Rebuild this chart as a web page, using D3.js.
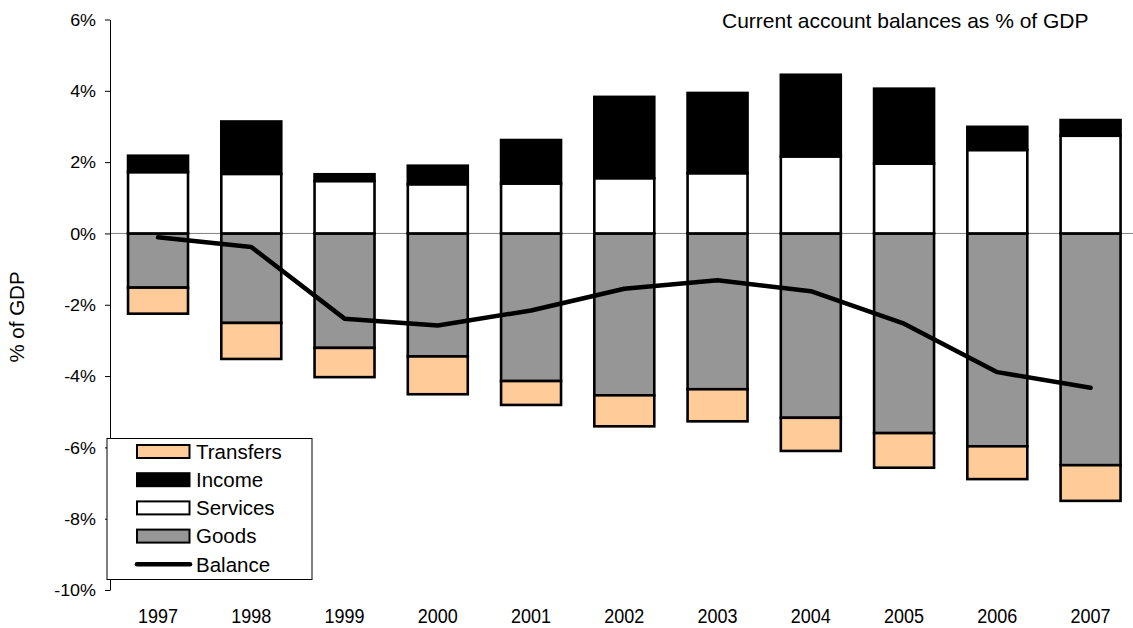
<!DOCTYPE html>
<html>
<head>
<meta charset="utf-8">
<script src="https://cdn.jsdelivr.net/npm/d3@7"></script>
<style>
  html, body { margin: 0; padding: 0; background: #fff; }
  svg { display: block; font-family: Arial, "Liberation Sans", sans-serif; }
</style>
</head>
<body>
<svg id="chart" width="1133" height="628"></svg>
<script>
const years = ["1997","1998","1999","2000","2001","2002","2003","2004","2005","2006","2007"];
const goods     = [-1.52,-2.51,-3.21,-3.45,-4.14,-4.54,-4.37,-5.17,-5.60,-5.97,-6.50];
const services  = [ 1.72, 1.67, 1.47, 1.38, 1.40, 1.55, 1.69, 2.16, 1.96, 2.34, 2.74];
const income    = [ 0.46, 1.47, 0.19, 0.52, 1.22, 2.28, 2.25, 2.29, 2.10, 0.65, 0.44];
const transfers = [-0.73,-1.01,-0.82,-1.06,-0.67,-0.87,-0.90,-0.93,-0.97,-0.92,-1.00];
const balance   = [-0.11,-0.38,-2.39,-2.58,-2.16,-1.55,-1.31,-1.62,-2.53,-3.89,-4.33];
const yTicks = [-10,-8,-6,-4,-2,0,2,4,6];
const seriesKeys = ["Goods","Services","Income","Transfers"];
const legendKeys = ["Transfers","Income","Services","Goods","Balance"];
const colors = {Goods:"#969696", Services:"#ffffff", Income:"#000000", Transfers:"#ffcc99"};
const titleText = "Current account balances as % of GDP";
const yLabel = "% of GDP";

const table = years.map((yr, i) => ({
  year: yr, Goods: goods[i], Services: services[i], Income: income[i], Transfers: transfers[i]
}));

const svg = d3.select("#chart");

const x = d3.scaleBand().domain(years).range([111.4, 1137.2]).paddingInner(0.357).paddingOuter(0.1785);
const y = d3.scaleLinear().domain([-10, 6]).range([590, 19.5]);

// zero line
svg.append("line")
  .attr("x1", 110).attr("x2", 1133)
  .attr("y1", y(0)).attr("y2", y(0))
  .attr("stroke", "#808080").attr("stroke-width", 1);

// stacked bars
const stack = d3.stack().keys(seriesKeys).offset(d3.stackOffsetDiverging);
const stacked = stack(table);

svg.append("g").selectAll("g")
  .data(stacked).join("g")
  .attr("fill", d => colors[d.key])
  .selectAll("rect")
  .data(d => d).join("rect")
  .attr("x", d => x(d.data.year))
  .attr("width", x.bandwidth())
  .attr("y", d => y(Math.max(d[0], d[1])))
  .attr("height", d => Math.abs(y(d[0]) - y(d[1])))
  .attr("stroke", "#000").attr("stroke-width", 2.6);

// balance line
const line = d3.line()
  .x((d, i) => x(years[i]) + x.bandwidth() / 2)
  .y(d => y(d));
svg.append("path")
  .datum(balance)
  .attr("d", line)
  .attr("fill", "none")
  .attr("stroke", "#000")
  .attr("stroke-width", 4.5)
  .attr("stroke-linejoin", "round")
  .attr("stroke-linecap", "round");

// y axis
const yAxis = svg.append("g")
  .attr("transform", "translate(110,0)")
  .call(d3.axisLeft(y).tickValues(yTicks).tickSize(5).tickSizeOuter(0).tickFormat(d => d + "%"));
yAxis.select(".domain").attr("stroke", "#000");
yAxis.selectAll(".tick line").attr("stroke", "#000");
yAxis.selectAll(".tick text")
  .attr("font-size", 16)
  .attr("font-family", "Arial, 'Liberation Sans', sans-serif")
  .attr("fill", "#000")
  .attr("x", -12.5)
  .attr("dy", "0.36em")
  .attr("transform", "scale(1.12,1)");

// x axis labels (at bottom)
const xAxis = svg.append("g")
  .attr("transform", "translate(0,590)")
  .call(d3.axisBottom(x).tickSize(0));
xAxis.select(".domain").remove();
xAxis.selectAll(".tick text")
  .attr("font-size", 18)
  .attr("font-family", "Arial, 'Liberation Sans', sans-serif")
  .attr("fill", "#000")
  .attr("y", 0).attr("dy", 0)
  .attr("transform", "translate(0,33) scale(1,1.1)");

// title
svg.append("text")
  .attr("x", 722).attr("y", 27.7)
  .attr("font-size", 21)
  .attr("fill", "#000")
  .text(titleText);

// y label
svg.append("text")
  .attr("transform", "translate(24,317) rotate(-90)")
  .attr("text-anchor", "middle")
  .attr("font-size", 20.5)
  .attr("fill", "#000")
  .text(yLabel);

// legend
const lg = svg.append("g");
lg.append("rect")
  .attr("x", 107).attr("y", 438.5)
  .attr("width", 205).attr("height", 141)
  .attr("fill", "#fff").attr("stroke", "#000").attr("stroke-width", 1);

const rowY = i => 451.5 + i * 28.2;
legendKeys.forEach((k, i) => {
  const cy = rowY(i);
  if (k === "Balance") {
    lg.append("line")
      .attr("x1", 137).attr("x2", 190)
      .attr("y1", cy).attr("y2", cy)
      .attr("stroke", "#000").attr("stroke-width", 4.5)
      .attr("stroke-linecap", "round");
  } else {
    lg.append("rect")
      .attr("x", 137).attr("y", cy - 6.5)
      .attr("width", 52.5).attr("height", 13)
      .attr("fill", colors[k]).attr("stroke", "#000").attr("stroke-width", 2);
  }
  lg.append("text")
    .attr("x", 196).attr("y", cy + 7.3)
    .attr("font-size", 20.5)
    .attr("fill", "#000")
    .text(k);
});
</script>
</body>
</html>
